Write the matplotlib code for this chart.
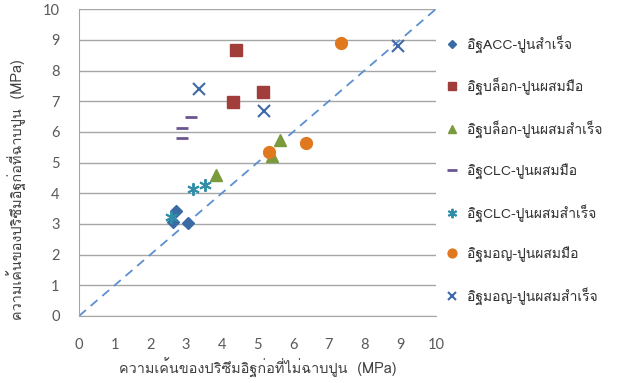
import matplotlib
matplotlib.use("Agg")
import matplotlib.pyplot as plt
from matplotlib import font_manager
from matplotlib.ft2font import FT2Font

# look for an installed font that has Thai glyphs
thai_family = None
for f in font_manager.fontManager.ttflist:
    try:
        cmap = FT2Font(f.fname).get_charmap()
    except Exception:
        continue
    if 0x0E2D in cmap and 0x0E34 in cmap:
        thai_family = f.name
        break
fams = ([thai_family] if thai_family else []) + ["DejaVu Sans"]
plt.rcParams["font.family"] = fams

# data (MPa)
acc_x = [2.64, 2.71, 3.05]
acc_y = [3.07, 3.43, 3.02]
block_hand_x = [4.40, 5.15, 4.31]
block_hand_y = [8.67, 7.31, 6.96]
block_ready_x = [3.84, 5.63, 5.41]
block_ready_y = [4.58, 5.73, 5.22]
clc_hand_x = [3.15, 2.88, 2.90]
clc_hand_y = [6.49, 6.12, 5.80]
clc_ready_x = [3.20, 3.54, 2.58]
clc_ready_y = [4.13, 4.27, 3.22]
mon_hand_x = [7.34, 6.36, 5.33]
mon_hand_y = [8.91, 5.64, 5.35]
mon_ready_x = [8.94, 3.37, 5.19]
mon_ready_y = [8.81, 7.39, 6.68]

labels = ["อิฐACC-ปูนสำเร็จ", "อิฐบล็อก-ปูนผสมมือ", "อิฐบล็อก-ปูนผสมสำเร็จ",
          "อิฐCLC-ปูนผสมมือ", "อิฐCLC-ปูนผสมสำเร็จ", "อิฐมอญ-ปูนผสมมือ",
          "อิฐมอญ-ปูนผสมสำเร็จ"]
ticks = list(range(0, 11))

fig = plt.figure(figsize=(6.27, 3.83), dpi=100)
ax = fig.add_axes([0.126, 0.175, 0.569, 0.801])

ax.plot([0, 10], [0, 10], linestyle=(0, (5, 3.5)), color="#5b8fd0", linewidth=1.3, zorder=2)

ax.plot(acc_x, acc_y, "D", color="#3a6ba5", markersize=6, label=labels[0], zorder=3)
ax.plot(block_hand_x, block_hand_y, "s", color="#a13d3b", markersize=8.5, label=labels[1], zorder=3)
ax.plot(block_ready_x, block_ready_y, "^", color="#7a9a3e", markersize=8.5, label=labels[2], zorder=3)
ax.plot(clc_hand_x, clc_hand_y, "_", color="#6b5590", markersize=9, markeredgewidth=2,
        label=labels[3], zorder=3)
ax.plot(clc_ready_x, clc_ready_y, marker=(6, 2, 0), linestyle="none", color="#2f8fa8",
        markersize=9, markeredgewidth=1.4, label=labels[4], zorder=3)
ax.plot(mon_hand_x, mon_hand_y, "o", color="#e07820", markersize=8.5, label=labels[5], zorder=3)
ax.plot(mon_ready_x, mon_ready_y, "x", color="#3f68a8", markersize=8, markeredgewidth=1.5,
        label=labels[6], zorder=3)

ax.set_xlim(0, 10)
ax.set_ylim(0, 10)
ax.set_xticks(ticks)
ax.set_yticks(ticks)
ax.set_xticklabels([str(t) for t in ticks], family=["Lato", "DejaVu Sans"])
ax.set_yticklabels([str(t) for t in ticks], family=["Lato", "DejaVu Sans"])
ax.grid(axis="y", color="#a6a6a6", linewidth=1)
ax.set_axisbelow(True)
for s in ["top", "right"]:
    ax.spines[s].set_visible(False)
for s in ["left", "bottom"]:
    ax.spines[s].set_color("#a6a6a6")
ax.tick_params(length=0, labelsize=10.5, labelcolor="#595959")
ax.tick_params(axis="x", pad=16)
ax.tick_params(axis="y", pad=14)

ax.set_xlabel("ความเค้นของปริซึมอิฐก่อที่ไม่ฉาบปูน  (MPa)", fontsize=10.4, color="#404040", labelpad=4)
ax.set_ylabel("ความเค้นของปริซึมอิฐก่อที่ฉาบปูน  (MPa)", fontsize=10.4, color="#404040")
ax.yaxis.set_label_coords(-0.146, 0.412)

fig.legend(loc="center left", bbox_to_anchor=(0.69, 0.556), frameon=False, fontsize=10,
           labelspacing=1.8, handlelength=1.0, handletextpad=0.6, numpoints=1,
           markerscale=0.75, labelcolor="#303030")

fig.savefig("out.png", dpi=100)
